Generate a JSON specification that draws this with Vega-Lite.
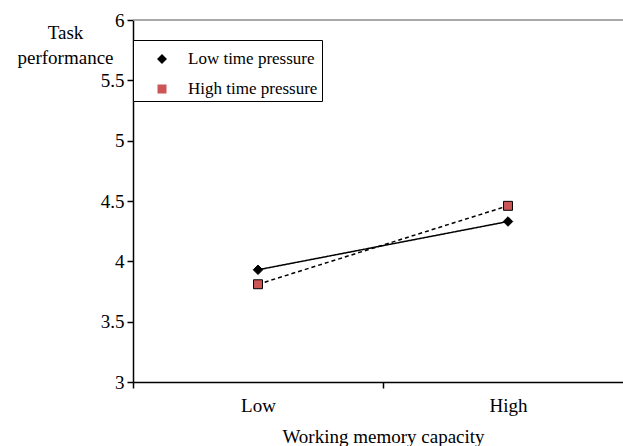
{
  "$schema": "https://vega.github.io/schema/vega-lite/v6.json",
  "width": 490,
  "height": 362,
  "autosize": {"type": "none"},
  "padding": {"left": 133, "top": 20, "right": 0, "bottom": 64},
  "background": "white",
  "config": {
    "font": "Liberation Serif",
    "view": {"stroke": null}
  },
  "data": {"values": [
    {"wmc": "Low", "series": "Low time pressure", "perf": 3.93},
    {"wmc": "High", "series": "Low time pressure", "perf": 4.33},
    {"wmc": "Low", "series": "High time pressure", "perf": 3.81},
    {"wmc": "High", "series": "High time pressure", "perf": 4.46}
  ]},
  "encoding": {
    "y": {"field": "perf", "type": "quantitative",
      "scale": {"domain": [3, 6], "nice": false, "zero": false},
      "axis": {"values": [3, 3.5, 4, 4.5, 5, 5.5, 6], "format": "~g", "grid": false,
        "domainColor": "black", "domainWidth": 1.5, "tickColor": "black", "tickSize": 6, "tickWidth": 1.5,
        "labelFont": "Liberation Serif", "labelFontSize": 19, "labelColor": "black", "labelPadding": 3,
        "title": ["Task", "performance"], "titleAngle": 0, "titleAlign": "center", "titleBaseline": "alphabetic",
        "titleX": -68, "titleY": 18, "titleLineHeight": 25, "titleFont": "Liberation Serif", "titleFontSize": 19, "titleFontWeight": "normal", "titleColor": "black"}}
  },
  "layer": [
    {
      "data": {"values": [{"top": 6}]},
      "mark": {"type": "rule", "color": "#8c8c8c", "strokeWidth": 1.5},
      "encoding": {"y": {"field": "top", "type": "quantitative"}}
    },
    {
      "mark": {"type": "line", "color": "black", "strokeWidth": 1.5},
      "encoding": {
        "x": {"field": "wmc", "type": "nominal", "sort": ["Low", "High"],
          "scale": {"type": "band", "range": [0, 500], "paddingInner": 0, "paddingOuter": 0},
          "axis": {"title": "Working memory capacity", "tickBand": "extent", "domainColor": "black", "domainWidth": 1.5,
            "tickColor": "black", "tickSize": 6, "tickWidth": 1.5, "labelFont": "Liberation Serif", "labelFontSize": 19, "labelColor": "black",
            "labelPadding": 8, "labelAngle": 0, "titleFont": "Liberation Serif", "titleFontSize": 19, "titleFontWeight": "normal", "titleColor": "black",
            "titlePadding": 12, "grid": false}},
        "strokeDash": {"field": "series", "type": "nominal", "sort": ["Low time pressure", "High time pressure"],
          "scale": {"range": [[1, 0], [4, 3]]}, "legend": null}
      }
    },
    {
      "transform": [{"filter": "datum.series === 'Low time pressure'"}],
      "mark": {"type": "point", "shape": "diamond", "filled": true, "color": "black", "stroke": "black", "strokeWidth": 1, "opacity": 1, "size": 90},
      "encoding": {"x": {"field": "wmc", "type": "nominal", "sort": ["Low", "High"]}}
    },
    {
      "transform": [{"filter": "datum.series === 'High time pressure'"}],
      "mark": {"type": "point", "shape": "square", "filled": true, "fill": "#cc5555", "stroke": "black", "strokeWidth": 1, "opacity": 1, "size": 80},
      "encoding": {"x": {"field": "wmc", "type": "nominal", "sort": ["Low", "High"]}}
    },
    {
      "mark": {"type": "point", "filled": true,
        "fill": {"expr": "datum.value === 'Low time pressure' ? 'black' : '#cc5555'"},
        "stroke": {"expr": "'black'"}, "strokeWidth": {"expr": "1.3"}, "opacity": 0},
      "encoding": {
        "x": {"field": "wmc", "type": "nominal", "sort": ["Low", "High"]},
        "shape": {"field": "series", "type": "nominal", "sort": ["Low time pressure", "High time pressure"],
          "scale": {"range": [
            "M-1.786,0H1.786M-0.357,0L0,-0.357L0.357,0L0,0.357Z",
            "M-1.786,0H-1.429M-1.214,0H-0.857M-0.643,0H-0.321M0.321,0H0.643M0.857,0H1.214M1.429,0H1.786M-0.321,-0.321H0.321V0.321H-0.321Z"
          ]},
          "legend": {"title": null, "orient": "none", "legendX": 0, "legendY": 20, "strokeColor": "black",
            "fillColor": "white", "padding": 4, "symbolSize": 784, "symbolOffset": 10, "symbolStrokeColor": "black", "symbolStrokeWidth": 1.3,
            "symbolOpacity": 1, "labelFont": "Liberation Serif", "labelFontSize": 17, "labelColor": "black", "labelOffset": 11, "rowPadding": 7,
            "encode": {
              "legend": {"strokeWidth": {"value": 1.5}},
              "symbols": {"stroke": {"value": "black"}, "strokeWidth": {"value": 1.3}, "strokeOpacity": {"value": 1}}
            }}}
      }
    }
  ]
}
